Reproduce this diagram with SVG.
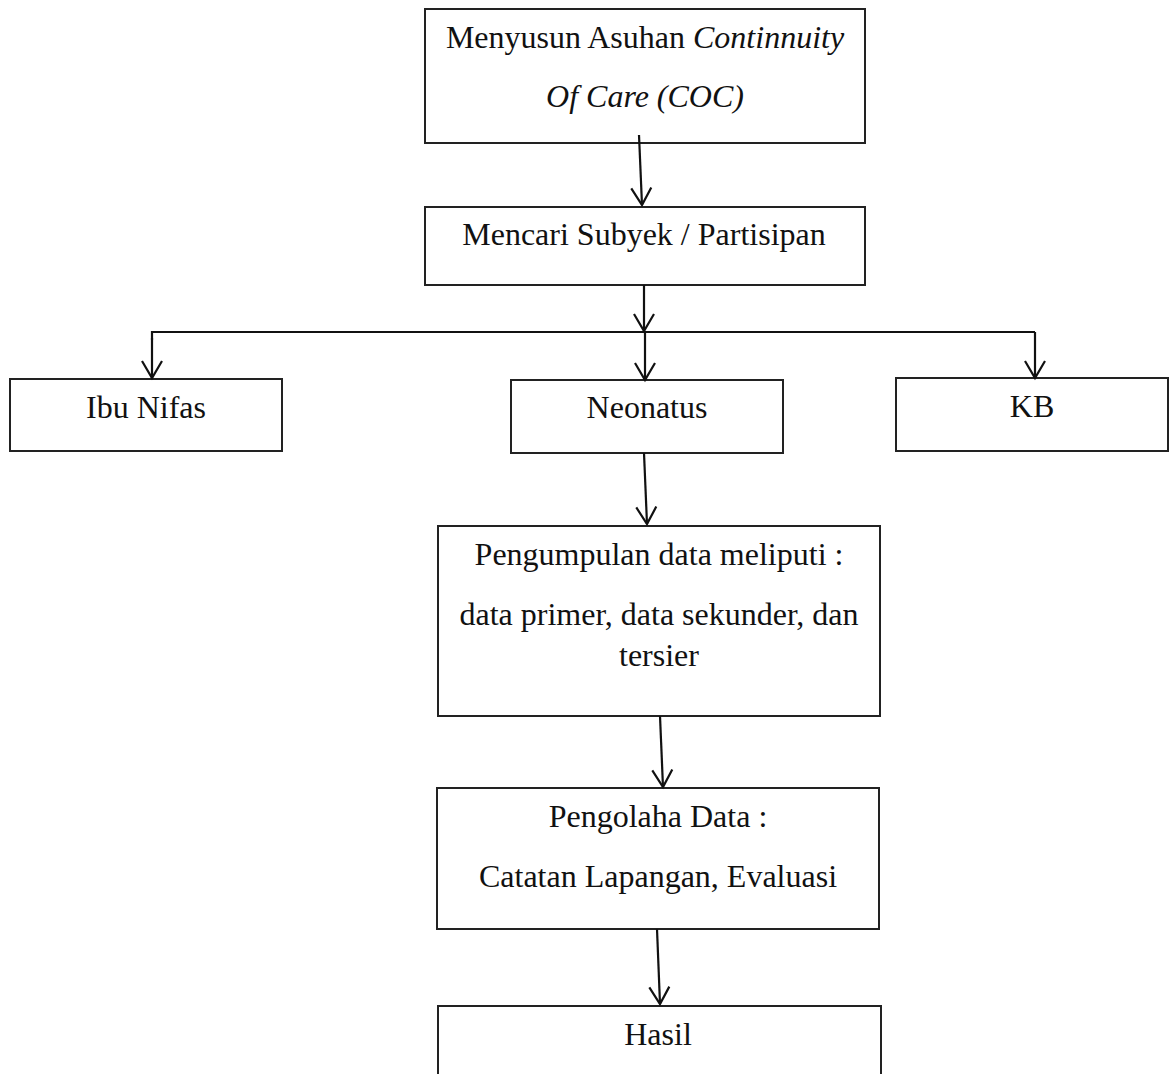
<svg xmlns="http://www.w3.org/2000/svg" width="1169" height="1074" viewBox="0 0 1169 1074">
<style>
.box{fill:#fff;stroke:#222;stroke-width:2}
.t{font-family:"Liberation Serif","Times New Roman",serif;font-size:32px;fill:#111;text-anchor:middle}
.c{fill:none;stroke:#111;stroke-width:2.2}
</style>
<defs>
<marker id="ah" markerUnits="userSpaceOnUse" markerWidth="24" markerHeight="26" viewBox="-20 -13 22 26" refX="0" refY="0" orient="auto">
<path d="M-17,-10 L0,0 L-17,10" fill="none" stroke="#111" stroke-width="2.2"/>
</marker>
</defs>
<rect width="1169" height="1074" fill="#fff"/>
<g id="node-coc">
<rect class="box" x="425" y="9" width="440" height="134"/>
<text class="t" x="645" y="48">Menyusun Asuhan <tspan font-style="italic">Continnuity</tspan></text>
<text class="t" x="645" y="107" font-style="italic">Of Care (COC)</text>
</g>
<g id="node-subyek">
<rect class="box" x="425" y="207" width="440" height="78"/>
<text class="t" x="644" y="245">Mencari Subyek / Partisipan</text>
</g>
<g id="node-ibu">
<rect class="box" x="10" y="379" width="272" height="72"/>
<text class="t" x="146" y="418">Ibu Nifas</text>
</g>
<g id="node-neonatus">
<rect class="box" x="511" y="380" width="272" height="73"/>
<text class="t" x="647" y="418">Neonatus</text>
</g>
<g id="node-kb">
<rect class="box" x="896" y="378" width="272" height="73"/>
<text class="t" x="1032" y="417">KB</text>
</g>
<g id="node-pengumpulan">
<rect class="box" x="438" y="526" width="442" height="190"/>
<text class="t" x="659" y="565">Pengumpulan data meliputi :</text>
<text class="t" x="659" y="625">data primer, data sekunder, dan</text>
<text class="t" x="659" y="666">tersier</text>
</g>
<g id="node-pengolaha">
<rect class="box" x="437" y="788" width="442" height="141"/>
<text class="t" x="658" y="827">Pengolaha Data :</text>
<text class="t" x="658" y="887">Catatan Lapangan, Evaluasi</text>
</g>
<g id="node-hasil">
<rect class="box" x="438" y="1006" width="443" height="90"/>
<text class="t" x="658" y="1045">Hasil</text>
</g>
<g id="connectors">
<line class="c" x1="639" y1="135" x2="642" y2="205" marker-end="url(#ah)"/>
<line class="c" x1="644" y1="285" x2="644" y2="331" marker-end="url(#ah)"/>
<polyline class="c" points="152,340 152,332 1035,332"/>
<line class="c" x1="152" y1="338" x2="152" y2="378" marker-end="url(#ah)"/>
<line class="c" x1="645" y1="332" x2="645" y2="380" marker-end="url(#ah)"/>
<line class="c" x1="1035" y1="332" x2="1035" y2="378" marker-end="url(#ah)"/>
<line class="c" x1="644" y1="453" x2="647" y2="524" marker-end="url(#ah)"/>
<line class="c" x1="660" y1="716" x2="663" y2="787" marker-end="url(#ah)"/>
<line class="c" x1="657" y1="929" x2="660" y2="1004" marker-end="url(#ah)"/>
</g>
</svg>
